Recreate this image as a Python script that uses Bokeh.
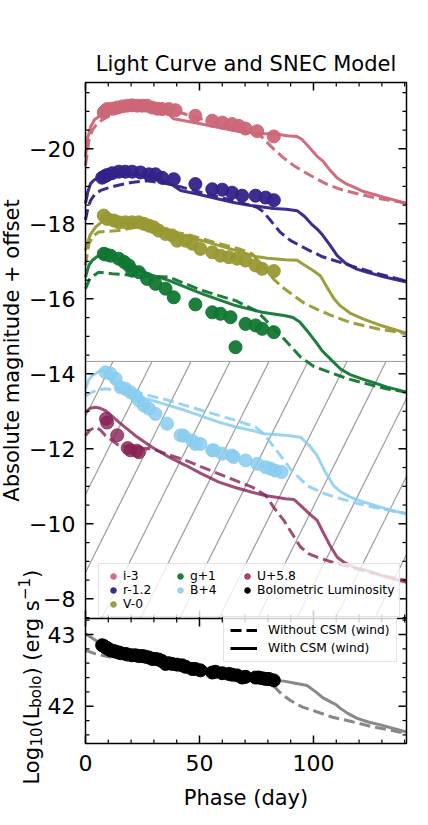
import math
from bokeh.plotting import figure
from bokeh.models import Range1d, Legend, LegendItem, Label
from bokeh.core.properties import value
from bokeh.embed import file_html
from bokeh.resources import INLINE

FONT = "DejaVu Sans"

# ---------------- data ----------------
# i-3
i_t = [8.0, 8.8, 9.5, 11.7, 13.9, 16.1, 18.3, 20.5, 22.7, 24.9, 27.0, 29.2, 31.4, 33.6, 36.5, 39.5, 48.2, 55.6, 60.0, 64.3, 67.3, 70.2, 75.3, 82.6]
i_m = [-20.97, -21.02, -21.06, -21.07, -21.10, -21.13, -21.15, -21.16, -21.15, -21.15, -21.15, -21.10, -21.07, -21.06, -21.06, -21.03, -20.88, -20.75, -20.70, -20.66, -20.61, -20.54, -20.47, -20.33]
i_sol_t = [0, 1, 2.2, 4, 6.6, 10, 13.9, 20, 24.1, 32.9, 36, 38.7, 44, 50.4, 65, 76.8, 82.6, 88.5, 92.8, 95, 98, 101.6, 104, 107, 110.4, 114, 117.7, 122, 130.8, 140.8]
i_sol_m = [-19.78, -20.3, -20.58, -20.78, -20.89, -20.97, -21.02, -21.09, -21.11, -21.07, -20.95, -20.80, -20.74, -20.67, -20.49, -20.40, -20.40, -20.35, -20.33, -20.25, -20.05, -19.80, -19.68, -19.45, -19.22, -19.08, -18.98, -18.86, -18.71, -18.54]
i_das_t = [0, 1.5, 3, 5.1, 8, 11, 16, 21.2, 29.9, 38.7, 50.4, 65, 76.8, 80, 82.6, 87, 91.4, 96, 101.6, 106, 111.8, 118, 126.5, 140.8]
i_das_m = [-19.55, -20.22, -20.5, -20.67, -20.80, -20.89, -21.0, -21.07, -21.11, -21.02, -20.80, -20.58, -20.35, -20.15, -19.99, -19.75, -19.55, -19.38, -19.19, -19.05, -18.92, -18.82, -18.70, -18.55]

# r-1.2
r_t = [7.3, 8.5, 9.5, 11.7, 14.6, 17.5, 20.5, 24.1, 27.8, 30.7, 33.6, 38.7, 48.2, 55.6, 60.0, 64.3, 68.7, 74.6, 79.0, 82.6]
r_m = [-19.23, -19.27, -19.30, -19.35, -19.39, -19.39, -19.39, -19.37, -19.32, -19.32, -19.23, -19.19, -19.06, -18.92, -18.91, -18.83, -18.75, -18.75, -18.70, -18.63]
r_sol_t = [0, 1, 2.2, 4, 6.6, 12, 18.3, 24, 28.5, 33, 37.3, 41.7, 50, 57.8, 65, 72.4, 82.6, 88, 92.8, 96, 99, 101.6, 104, 107, 110.4, 114, 119, 124, 129.4, 135, 140.8]
r_sol_m = [-18.54, -18.85, -19.07, -19.18, -19.24, -19.30, -19.33, -19.30, -19.24, -19.17, -19.07, -18.89, -18.78, -18.67, -18.57, -18.49, -18.41, -18.39, -18.35, -18.2, -18.0, -17.86, -17.7, -17.45, -17.15, -16.95, -16.79, -16.70, -16.61, -16.53, -16.45]
r_das_t = [0, 1, 2.2, 4, 6.6, 10, 13.9, 20, 27, 35.8, 42, 50.4, 65, 75.3, 78, 81, 85.5, 90, 97.2, 104, 111.8, 119, 126.5, 134, 140.8]
r_das_m = [-18.1, -18.4, -18.62, -18.78, -18.89, -18.96, -19.02, -19.10, -19.15, -19.07, -18.98, -18.84, -18.62, -18.44, -18.32, -18.10, -17.77, -17.55, -17.32, -17.12, -16.97, -16.83, -16.70, -16.58, -16.47]

# V-0
v_t = [8.0, 9.5, 12.4, 14.6, 17.5, 20.5, 23.4, 25.6, 27.8, 29.9, 32.1, 35.1, 38.0, 40.2, 43.9, 46.8, 50.4, 55.6, 59.2, 62.9, 66.5, 70.2, 74.6, 77.5, 82.6]
v_m = [-18.22, -18.13, -18.09, -18.04, -18.04, -18.04, -18.04, -18.00, -17.95, -17.91, -17.82, -17.73, -17.69, -17.55, -17.55, -17.47, -17.33, -17.24, -17.15, -17.11, -17.07, -17.02, -16.89, -16.80, -16.74]
v_sol_t = [0, 2, 4.4, 7.3, 10, 14.6, 23.4, 28, 32.1, 39.5, 51.2, 65.8, 74.6, 80, 87.7, 92.8, 96, 100, 103.1, 106, 109, 111.8, 116, 122, 130, 140.8]
v_sol_m = [-17.29, -17.7, -17.91, -18.06, -18.12, -18.13, -18.09, -18.0, -17.91, -17.73, -17.55, -17.29, -17.13, -17.08, -17.04, -17.03, -16.9, -16.75, -16.61, -16.3, -16.0, -15.81, -15.62, -15.46, -15.28, -15.08]
v_das_t = [0, 1.5, 3.5, 5.8, 10, 14.6, 21.9, 29.2, 43.9, 58.5, 68, 73.1, 78, 82.6, 87, 91.4, 96, 101.6, 108, 116.2, 128, 140.8]
v_das_m = [-16.9, -17.47, -17.68, -17.78, -17.80, -17.82, -17.91, -17.87, -17.73, -17.47, -17.32, -17.2, -16.85, -16.52, -16.28, -16.08, -15.88, -15.72, -15.55, -15.37, -15.2, -15.07]

# g+1
g_t = [8.0, 9.0, 11.0, 14.6, 17.0, 19.0, 20.5, 23.4, 27.0, 30.7, 35.1, 38.7, 48.2, 55.6, 59.2, 63.6, 65.8, 70.2, 74.6, 77.5, 82.6]
g_m = [-17.20, -17.18, -17.15, -17.07, -16.98, -16.89, -16.75, -16.71, -16.53, -16.40, -16.27, -16.04, -15.85, -15.64, -15.60, -15.51, -14.71, -15.33, -15.29, -15.20, -15.11]
g_sol_t = [0, 1.5, 2.9, 5, 7.3, 10, 14.6, 21.9, 28, 36.5, 51.2, 65.8, 77.5, 87.7, 91, 94, 97.2, 101, 104, 108.8, 112, 116, 123.5, 132, 140.8]
g_sol_m = [-16.58, -16.9, -17.02, -17.12, -17.15, -17.13, -17.07, -16.84, -16.65, -16.49, -16.13, -15.82, -15.64, -15.55, -15.50, -15.38, -15.15, -14.85, -14.6, -14.31, -14.12, -13.98, -13.82, -13.65, -13.51]
g_das_t = [0, 2, 5.8, 11.7, 21.9, 36.5, 51.2, 65.8, 74.6, 78, 81.9, 87.7, 94.3, 100, 108.8, 116, 123.5, 132, 140.8]
g_das_m = [-16.27, -16.55, -16.71, -16.67, -16.62, -16.58, -16.22, -15.95, -15.69, -15.5, -15.24, -14.89, -14.45, -14.2, -14.0, -13.85, -13.73, -13.6, -13.51]

# B+4
b_t = [8.8, 11.0, 13.2, 15.4, 17.5, 19.7, 21.9, 23.4, 25.6, 27.8, 30.7, 35.8, 41.7, 43.1, 46.8, 48.2, 50.4, 55.6, 56.3, 60.0, 64.3, 65.0, 70.2, 75.3, 79.0, 81.1, 83.3, 86.0]
b_m = [-14.04, -14.00, -13.87, -13.64, -13.60, -13.51, -13.42, -13.29, -13.15, -13.07, -12.93, -12.67, -12.36, -12.35, -12.22, -12.13, -12.13, -11.96, -11.96, -11.87, -11.82, -11.78, -11.69, -11.60, -11.51, -11.47, -11.42, -11.38]
b_sol_t = [0, 1.5, 2.9, 6.6, 8, 10.2, 12.5, 14.6, 20.5, 29.2, 43.9, 58.5, 66, 73.1, 78.2, 87.7, 94.3, 98, 101.6, 105, 108.8, 112, 116.2, 122, 129.4, 135, 140.8]
b_sol_m = [-13.60, -13.85, -13.95, -14.09, -14.08, -13.95, -13.75, -13.60, -13.42, -13.29, -13.02, -12.71, -12.58, -12.49, -12.40, -12.36, -12.31, -12.1, -11.82, -11.4, -11.02, -10.85, -10.71, -10.58, -10.44, -10.35, -10.27]
b_das_t = [0, 4.4, 8.8, 21.9, 36.5, 51.2, 65.8, 74.6, 78.2, 82, 85.5, 90, 97.2, 104, 111.8, 119, 126.5, 134, 140.8]
b_das_m = [-13.42, -13.55, -13.60, -13.51, -13.29, -13.02, -12.76, -12.58, -12.40, -12.1, -11.82, -11.45, -11.02, -10.82, -10.67, -10.55, -10.44, -10.35, -10.27]

# U+5.8
u_t = [9.0, 9.5, 13.9, 18.5, 19.7, 22.5, 23.4]
u_m = [-12.80, -12.70, -12.36, -12.02, -11.96, -11.95, -11.91]
u_sol_t = [0, 2, 4.4, 6.5, 8.8, 11.5, 14.6, 21.9, 29.2, 36, 43.9, 51, 58.5, 66, 73.1, 78.2, 87.7, 91.4, 95, 98.5, 101.6, 104, 107, 110.4, 114, 118, 123.6, 132, 140.8]
u_sol_m = [-12.98, -13.08, -13.11, -13.08, -13.02, -12.88, -12.71, -12.35, -12.04, -11.80, -11.56, -11.33, -11.11, -10.96, -10.84, -10.76, -10.67, -10.65, -10.45, -10.25, -10.09, -9.8, -9.45, -9.11, -8.95, -8.84, -8.75, -8.58, -8.44]
u_das_t = [0, 2, 4.4, 6.5, 8.8, 14.6, 21, 29.2, 36, 43.9, 58.5, 73.1, 79, 83, 87, 91, 94.3, 98, 101.6, 108, 116.2, 128, 140.8]
u_das_m = [-12.35, -12.5, -12.58, -12.5, -12.35, -12.09, -12.02, -12.0, -11.85, -11.69, -11.33, -10.98, -10.76, -10.4, -10.09, -9.7, -9.38, -9.2, -9.11, -8.98, -8.84, -8.65, -8.49]

# Bolometric luminosity (log10 erg/s)
bol_t = [7.3, 8.0, 8.8, 9.5, 10.0, 11.0, 12.4, 13.2, 14.6, 15.4, 17.5, 18.5, 20.5, 22.0, 23.4, 25.0, 26.3, 27.8, 29.2, 30.7, 32.1, 33.6, 35.1, 36.5, 38.0, 40.2, 42.4, 43.9, 46.8, 48.2, 50.4, 55.6, 57.0, 60.0, 62.9, 64.3, 66.5, 68.7, 70.2, 74.6, 76.0, 77.5, 79.0, 80.5, 82.6]
bol_L = [42.85, 42.84, 42.82, 42.81, 42.80, 42.78, 42.77, 42.76, 42.75, 42.74, 42.73, 42.72, 42.71, 42.71, 42.70, 42.70, 42.69, 42.68, 42.66, 42.66, 42.65, 42.63, 42.59, 42.60, 42.59, 42.58, 42.57, 42.55, 42.52, 42.52, 42.50, 42.47, 42.48, 42.46, 42.45, 42.44, 42.43, 42.40, 42.41, 42.40, 42.40, 42.39, 42.38, 42.38, 42.36]
bol_sol_t = [0, 2, 4.4, 6.6, 8.8, 11.5, 14.6, 21.9, 36.5, 51.2, 65.8, 80.4, 87, 92, 97.2, 101, 104, 107.5, 110, 111.8, 115, 119.2, 124, 129.4, 135, 140.8]
bol_sol_L = [43.01, 42.97, 42.92, 42.86, 42.80, 42.75, 42.71, 42.66, 42.62, 42.54, 42.45, 42.37, 42.35, 42.32, 42.29, 42.2, 42.12, 42.06, 42.02, 41.97, 41.9, 41.83, 41.78, 41.74, 41.69, 41.64]
bol_das_t = [0, 4.4, 11.7, 21.9, 36.5, 51.2, 65.8, 76, 79, 82.6, 86, 89.9, 95, 101.6, 108, 116.2, 125, 133, 140.8]
bol_das_L = [42.78, 42.73, 42.68, 42.65, 42.62, 42.54, 42.45, 42.38, 42.34, 42.28, 42.17, 42.08, 41.99, 41.92, 41.85, 41.79, 41.72, 41.67, 41.62]

# ticks
x_major = [0, 50, 100]
x_minor = [10 * k for k in range(15) if 10 * k not in (0, 50, 100)]
mag_major = [-20, -18, -16, -14, -12, -10, -8]
mag_minor = [-21.5 + 0.5 * k for k in range(29) if (-21.5 + 0.5 * k) not in (-20, -18, -16, -14, -12, -10, -8)]
lum_major = [42, 43]
lum_minor = [round(41.6 + 0.2 * k, 1) for k in range(9) if k not in (2, 7)]

# ---------------- layout geometry (canvas pixels) ----------------
W, H = 428, 825
FR_L, FR_R, FR_T, FR_B = 85, 406, 82, 743
X_MAX = 140.8                      # phase at the right frame edge
MAG_TOP, MAG_BOT = -21.768, -4.141   # magnitudes at frame top / bottom
LUM_TOP, LUM_BOT = 50.699, 41.48     # log L at frame top / bottom
SPLIT_PY = 618                      # boundary between the two panels
HATCH_TOP = -14.33


def t_at(px):
    return (px - FR_L) * X_MAX / (FR_R - FR_L)


def mag_at(py):
    return MAG_TOP + (py - FR_T) * (MAG_BOT - MAG_TOP) / (FR_B - FR_T)


def lum_at(py):
    return LUM_TOP - (py - FR_T) * (LUM_TOP - LUM_BOT) / (FR_B - FR_T)


SPLIT = mag_at(SPLIT_PY)
DX = X_MAX / (FR_R - FR_L)                  # days per pixel
DM = (MAG_BOT - MAG_TOP) / (FR_B - FR_T)    # mag per pixel (downwards)

p = figure(width=W, height=H, x_range=Range1d(t_at(0), t_at(W)),
           y_range=Range1d(mag_at(H), mag_at(0)),
           output_backend="svg", toolbar_location=None,
           x_axis_type=None, y_axis_type=None, title=None, min_border=0)
p.extra_y_ranges = {"lum": Range1d(lum_at(H), lum_at(0))}
p.grid.visible = False
p.outline_line_color = None
p.background_fill_color = "white"
p.border_fill_color = "white"

# --- hatched region ---
p.quad(left=[0], right=[X_MAX], bottom=[SPLIT], top=[HATCH_TOP], fill_alpha=0,
       hatch_pattern="/", hatch_color="#9a9a9a", hatch_weight=1.2, hatch_scale=78,
       line_color="#9a9a9a", line_width=1)

# --- bands ---
bands = [
    ("i-3", "#CC6677", i_t, i_m, i_sol_t, i_sol_m, i_das_t, i_das_m, 0.95),
    ("r-1.2", "#332288", r_t, r_m, r_sol_t, r_sol_m, r_das_t, r_das_m, 0.95),
    ("V-0", "#999933", v_t, v_m, v_sol_t, v_sol_m, v_das_t, v_das_m, 0.95),
    ("g+1", "#117733", g_t, g_m, g_sol_t, g_sol_m, g_das_t, g_das_m, 0.95),
    ("B+4", "#88CCEE", b_t, b_m, b_sol_t, b_sol_m, b_das_t, b_das_m, 0.85),
    ("U+5.8", "#882255", u_t, u_m, u_sol_t, u_sol_m, u_das_t, u_das_m, 0.8),
]
scat = {}
for name, col, pt, pm, st, sm, dt, dm, a in bands:
    p.line(st, sm, line_color=col, line_width=3, line_alpha=a)
    p.line(dt, dm, line_color=col, line_width=3, line_alpha=a, line_dash="11 5")
for name, col, pt, pm, st, sm, dt, dm, a in bands:
    scat[name] = p.scatter(pt, pm, marker="circle", size=13, fill_color=col, line_color=col,
                           fill_alpha=a, line_alpha=a)

# bolometric panel
p.line(bol_sol_t, bol_sol_L, y_range_name="lum", line_color="#888888", line_width=3)
p.line(bol_das_t, bol_das_L, y_range_name="lum", line_color="#888888", line_width=3, line_dash="11 5")
bol_sc = p.scatter(bol_t, bol_L, y_range_name="lum", marker="circle", size=13,
                   fill_color="black", line_color="black")

# --- frame and ticks (inward, on all sides of both panels) ---
p.quad(left=[0], right=[X_MAX], top=[MAG_TOP], bottom=[MAG_BOT], fill_alpha=0,
       line_color="black", line_width=1.5)
p.segment(x0=[0], x1=[X_MAX], y0=[SPLIT], y1=[SPLIT], line_color="black", line_width=1.5)


def xticks(vals, ln, lw):
    n = len(vals)
    for y0, sgn in ((MAG_BOT, -1), (MAG_TOP, 1), (SPLIT, -1), (SPLIT, 1)):
        p.segment(x0=vals, x1=vals, y0=[y0] * n, y1=[y0 + sgn * ln * DM] * n,
                  line_color="black", line_width=lw)


def yticks(vals, ln, lw, rng=None):
    n = len(vals)
    kw = {"y_range_name": rng} if rng else {}
    p.segment(x0=[0] * n, x1=[ln * DX] * n, y0=vals, y1=vals, line_color="black", line_width=lw, **kw)
    p.segment(x0=[X_MAX] * n, x1=[X_MAX - ln * DX] * n, y0=vals, y1=vals, line_color="black", line_width=lw, **kw)


xticks(x_major, 8, 1.5)
xticks(x_minor, 4, 1.2)
yticks(mag_major, 8, 1.5)
yticks(mag_minor, 4, 1.2)
yticks(lum_major, 8, 1.5, "lum")
yticks(lum_minor, 4, 1.2, "lum")

# tick labels
TICK_FS = "22px"
p.text(x=[t_at(FR_L - 10)] * len(mag_major), y=mag_major,
       text=[("\u2212" if v < 0 else "") + str(abs(v)) for v in mag_major],
       text_align="right", text_baseline="middle", text_font=value(FONT),
       text_font_size=TICK_FS, text_color="black")
p.text(x=[t_at(FR_L - 10)] * len(lum_major), y=lum_major, y_range_name="lum",
       text=[str(v) for v in lum_major],
       text_align="right", text_baseline="middle", text_font=value(FONT),
       text_font_size=TICK_FS, text_color="black")
p.text(x=x_major, y=[mag_at(FR_B + 11)] * len(x_major), text=[str(v) for v in x_major],
       text_align="center", text_baseline="top", text_font=value(FONT),
       text_font_size=TICK_FS, text_color="black")

# title and axis labels
p.add_layout(Label(x=t_at((FR_L + FR_R) / 2), y=mag_at(63), text="Light Curve and SNEC Model",
                   text_align="center", text_baseline="middle", text_font=FONT,
                   text_font_size="21px", text_color="black"))
p.add_layout(Label(x=t_at((FR_L + FR_R) / 2), y=mag_at(797), text="Phase (day)",
                   text_align="center", text_baseline="middle", text_font=FONT,
                   text_font_size="21px", text_color="black"))
p.add_layout(Label(x=t_at(11), y=mag_at(350),
                   text="Absolute magnitude + offset", angle=math.pi / 2,
                   text_align="center", text_baseline="alphabetic",
                   text_font=FONT, text_font_size="21px", text_color="black"))

F, S = 21.0, 15.0
pieces = [("Log", F, 0), ("10", S, 4), ("(L", F, 0), ("bolo", S, 4),
          (") (erg s", F, 0), ("\u22121", S, -8), (")", F, 0)]
adv = {"L": 0.557, "o": 0.612, "g": 0.635, "(": 0.390, ")": 0.390, " ": 0.318,
       "e": 0.615, "r": 0.411, "s": 0.521, "b": 0.635, "l": 0.278, "1": 0.636,
       "0": 0.636, "\u2212": 0.838}
py = 784.0
for txt, fs, dx in pieces:
    p.add_layout(Label(x=t_at(31 + dx), y=lum_at(py), y_range_name="lum",
                       text=txt, angle=math.pi / 2, text_align="left",
                       text_baseline="alphabetic", text_font=FONT,
                       text_font_size=f"{fs}px", text_color="black"))
    py -= sum(adv[c] for c in txt) * fs

# legend proxies (outside the visible x range)
blank_r = p.scatter([t_at(-60)], [-15], marker="circle", size=1, alpha=0)
d_dash = p.line([t_at(-80), t_at(-60)], [42.5, 42.5], y_range_name="lum", line_color="black",
                line_width=3, line_dash="11 5")
d_sol = p.line([t_at(-80), t_at(-60)], [42.5, 42.5], y_range_name="lum", line_color="black",
               line_width=3)

leg1 = Legend(items=[
    LegendItem(label="i-3", renderers=[scat["i-3"]]),
    LegendItem(label="r-1.2", renderers=[scat["r-1.2"]]),
    LegendItem(label="V-0", renderers=[scat["V-0"]]),
    LegendItem(label="g+1", renderers=[scat["g+1"]]),
    LegendItem(label="B+4", renderers=[scat["B+4"]]),
    LegendItem(label=" ", renderers=[blank_r]),
    LegendItem(label="U+5.8", renderers=[scat["U+5.8"]]),
    LegendItem(label="Bolometric Luminosity", renderers=[bol_sc]),
], location=(98, H - 617), nrows=3)
leg1.label_text_font = FONT
leg1.label_text_font_size = "12.3px"
leg1.label_text_color = "black"
leg1.glyph_width = 18
leg1.glyph_height = 14
leg1.label_height = 14
leg1.label_width = 48
leg1.label_standoff = 1
leg1.spacing = 0
leg1.padding = 5
leg1.margin = 0
leg1.background_fill_alpha = 0.8
leg1.border_line_color = "#dddddd"
leg1.border_line_alpha = 0.8
p.add_layout(leg1)

leg2 = Legend(items=[
    LegendItem(label="Without CSM (wind)", renderers=[d_dash]),
    LegendItem(label="With CSM (wind)", renderers=[d_sol]),
], location=(223, H - 662))
leg2.label_text_font = FONT
leg2.label_text_font_size = "12.3px"
leg2.label_text_color = "black"
leg2.glyph_width = 27
leg2.glyph_height = 12
leg2.label_height = 12
leg2.label_standoff = 11
leg2.spacing = 4
leg2.padding = 6
leg2.margin = 0
leg2.background_fill_alpha = 0.8
leg2.border_line_color = "#dddddd"
leg2.border_line_alpha = 0.8
p.add_layout(leg2)

open("out.html", "w").write(file_html(p, INLINE))
